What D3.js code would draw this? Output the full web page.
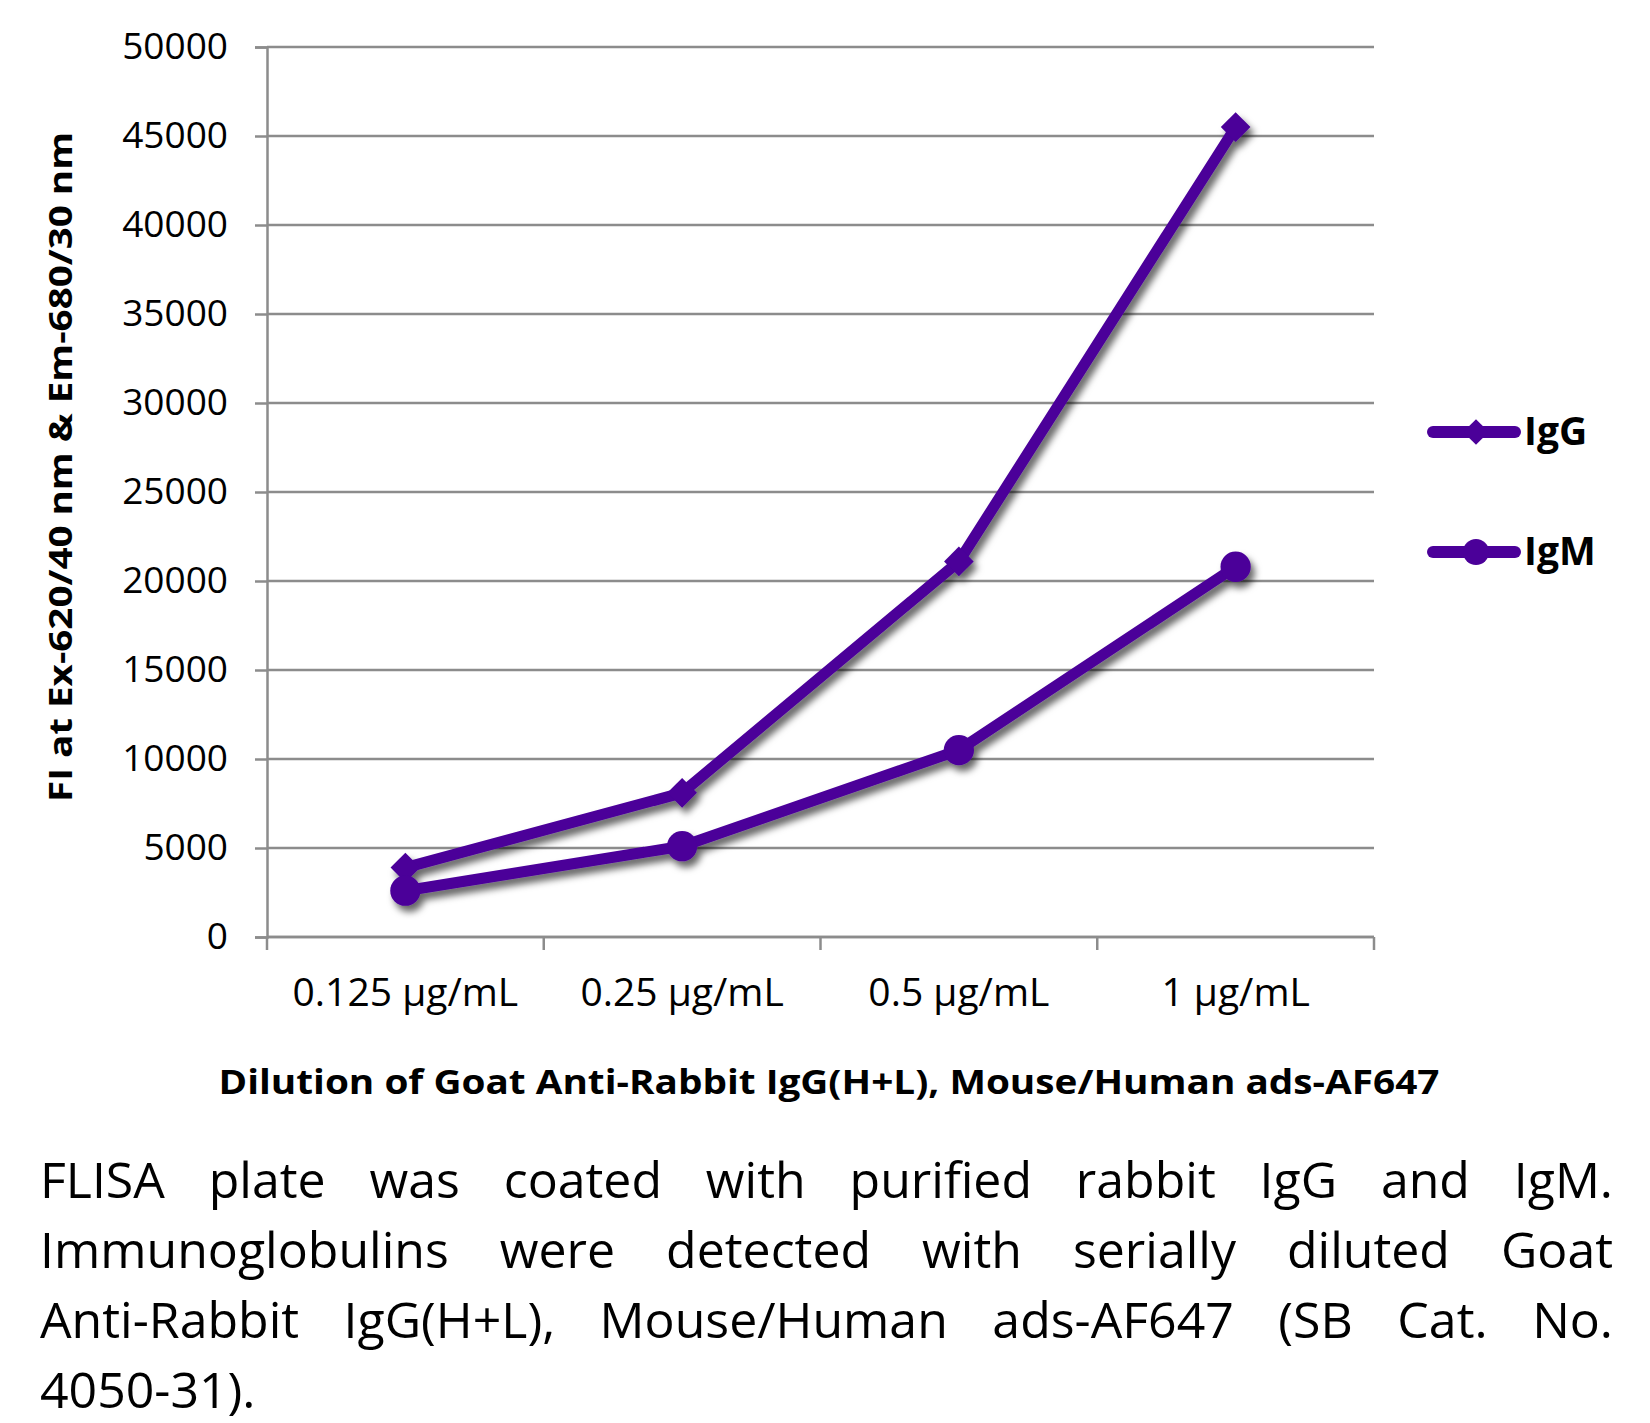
<!DOCTYPE html>
<html>
<head>
<meta charset="utf-8">
<script src="https://cdn.jsdelivr.net/npm/d3@7"></script>
<style>
  body { margin: 0; background: #fff; }
  #wrap { position: relative; width: 1650px; height: 1423px; overflow: hidden; }
  svg { position: absolute; left: 0; top: 0; }
  .cap { position: absolute; left: 40px; width: 1573px; font-family: "Open Sans", sans-serif;
         font-size: 50px; line-height: 70px; color: #000; white-space: nowrap; }
  .cap.j { text-align: justify; text-align-last: justify; }
</style>
</head>
<body>
<div id="wrap"></div>
<script>
// chart data
const categories = ['0.125 µg/mL', '0.25 µg/mL', '0.5 µg/mL', '1 µg/mL'];
const igG = [3900, 8100, 21100, 45500];
const igM = [2600, 5100, 10500, 20800];
const yTicks = [0, 5000, 10000, 15000, 20000, 25000, 30000, 35000, 40000, 45000, 50000];
const seriesNames = ['IgG', 'IgM'];
const captionLines = [
  'FLISA plate was coated with purified rabbit IgG and IgM.',
  'Immunoglobulins were detected with serially diluted Goat',
  'Anti-Rabbit IgG(H+L), Mouse/Human ads-AF647 (SB Cat. No.',
  '4050-31).'
];

const W = 1650, H = 1423;
const plotL = 267, plotR = 1374, plotT = 47, plotB = 937;
const purple = '#4b0099';
const grid = '#8c8c8c';

const wrap = d3.select('#wrap');
const svg = wrap.append('svg').attr('width', W).attr('height', H);

const defs = svg.append('defs');
const f = defs.append('filter').attr('id', 'shadow')
  .attr('x', '-20%').attr('y', '-20%').attr('width', '140%').attr('height', '140%');
f.append('feDropShadow').attr('dx', 4).attr('dy', 6).attr('stdDeviation', 3.5)
  .attr('flood-color', '#000').attr('flood-opacity', 0.6);

const x = d3.scaleBand().domain(categories).range([plotL, plotR]);
const y = d3.scaleLinear().domain([0, 50000]).range([plotB, plotT]);

// gridlines
svg.append('g').selectAll('line').data(yTicks).enter().append('line')
  .attr('x1', plotL).attr('x2', plotR)
  .attr('y1', d => y(d)).attr('y2', d => y(d))
  .attr('stroke', grid).attr('stroke-width', 2.5);

// y axis
const yAxis = svg.append('g').attr('transform', `translate(${plotL},0)`)
  .call(d3.axisLeft(y).tickValues(yTicks).tickSize(12).tickPadding(27).tickFormat(d3.format('d')));
yAxis.select('.domain').attr('stroke', grid).attr('stroke-width', 2.5);
yAxis.selectAll('.tick line').attr('stroke', grid).attr('stroke-width', 2.5);
yAxis.selectAll('text').attr('font-family', '"Open Sans", sans-serif').attr('font-size', 37).attr('fill', '#000');

// x axis baseline + ticks at band edges
const edges = categories.map(c => x(c)).concat([plotR]);
svg.append('line').attr('x1', plotL).attr('x2', plotR).attr('y1', plotB).attr('y2', plotB)
  .attr('stroke', grid).attr('stroke-width', 2.5);
svg.append('g').selectAll('line').data(edges).enter().append('line')
  .attr('x1', d => d).attr('x2', d => d).attr('y1', plotB).attr('y2', plotB + 13)
  .attr('stroke', grid).attr('stroke-width', 2.5);

const xAxis = svg.append('g').attr('transform', `translate(0,${plotB})`)
  .call(d3.axisBottom(x).tickSize(0).tickPadding(41));
xAxis.select('.domain').remove();
xAxis.selectAll('text').attr('font-family', '"Open Sans", sans-serif').attr('font-size', 39).attr('fill', '#000');

// axis titles
svg.append('text')
  .attr('transform', `translate(72,467) rotate(-90)`)
  .attr('text-anchor', 'middle')
  .attr('font-family', '"Open Sans", sans-serif').attr('font-weight', 'bold').attr('font-size', 33)
  .attr('textLength', 670).attr('lengthAdjust', 'spacingAndGlyphs')
  .text('FI at Ex-620/40 nm & Em-680/30 nm');

svg.append('text')
  .attr('x', 829).attr('y', 1094)
  .attr('text-anchor', 'middle')
  .attr('font-family', '"Open Sans", sans-serif').attr('font-weight', 'bold').attr('font-size', 34)
  .attr('textLength', 1221).attr('lengthAdjust', 'spacingAndGlyphs')
  .text('Dilution of Goat Anti-Rabbit IgG(H+L), Mouse/Human ads-AF647');

// series
const series = [igG, igM];
const line = d3.line().x((d, i) => x(categories[i]) + x.bandwidth() / 2).y(d => y(d));
const plot = svg.append('g').attr('filter', 'url(#shadow)');

series.forEach((vals, si) => {
  const g = plot.append('g');
  g.append('path').datum(vals).attr('d', line)
    .attr('fill', 'none').attr('stroke', purple).attr('stroke-width', 11).attr('stroke-linejoin', 'round');
  const sym = si === 0 ? d3.symbolDiamond2 : d3.symbolCircle;
  const size = si === 0 ? 560 : 720;
  g.selectAll('path.pt').data(vals).enter().append('path').attr('class', 'pt')
    .attr('transform', (d, i) => `translate(${x(categories[i]) + x.bandwidth() / 2},${y(d)})`)
    .attr('d', d3.symbol().type(sym).size(size))
    .attr('fill', purple);
});

// legend
const legY = [432, 552];
seriesNames.forEach((name, i) => {
  const g = svg.append('g').attr('transform', `translate(0,${legY[i]})`);
  g.append('line').attr('x1', 1433).attr('x2', 1515).attr('y1', 0).attr('y2', 0)
    .attr('stroke', purple).attr('stroke-width', 12).attr('stroke-linecap', 'round');
  g.append('path').attr('transform', 'translate(1476,0)')
    .attr('d', d3.symbol().type(i === 0 ? d3.symbolDiamond2 : d3.symbolCircle).size(i === 0 ? 420 : 530))
    .attr('fill', purple);
  g.append('text').attr('x', 1524).attr('y', 13)
    .attr('font-family', '"Open Sans", sans-serif').attr('font-weight', 'bold').attr('font-size', 39)
    .text(name);
});

// caption, justified lines
wrap.selectAll('div.cap').data(captionLines).enter().append('div')
  .attr('class', (d, i) => i < captionLines.length - 1 ? 'cap j' : 'cap')
  .style('top', (d, i) => (1144 + i * 70) + 'px')
  .text(d => d);
</script>
</body>
</html>
